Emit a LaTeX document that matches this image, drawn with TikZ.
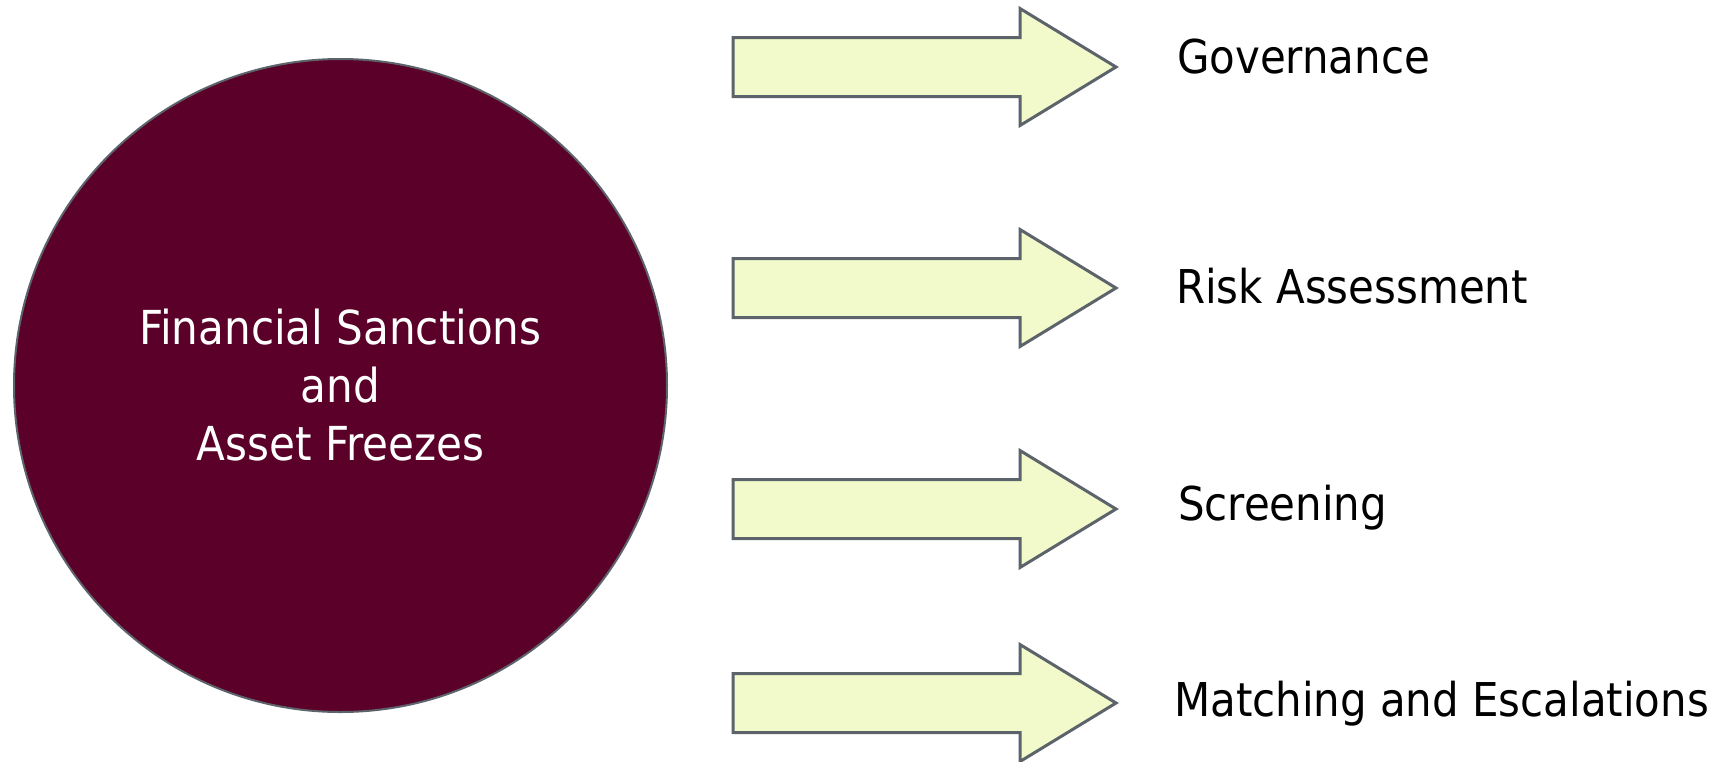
\documentclass[tikz,border=0pt]{standalone}
\usepackage{fontspec}
\setmainfont{DejaVu Sans Condensed}
\usepackage{tikz}
\usetikzlibrary{positioning}
\tikzset{>=stealth}
\definecolor{sanctionred}{RGB}{90,0,41}
\definecolor{edgegray}{RGB}{92,99,106}
\definecolor{paleyellow}{RGB}{242,250,204}
\tikzset{
  blockarrow/.pic={
    \draw[line width=3, edgegray, fill=paleyellow, line join=miter]
      (0,-29.5) -- (287,-29.5) -- (287,-58.5) -- (383,0) -- (287,58.5) -- (287,29.5) -- (0,29.5) -- cycle;
  },
  topic/.style={anchor=base west, inner sep=0pt, font=\fontsize{46.6}{55}\selectfont},
}

\begin{document}
\begin{tikzpicture}[x=1pt,y=-1pt]
			\useasboundingbox (0,0) rectangle (1727,761);
			\node [circle, draw=edgegray, line width=2, fill=sanctionred, minimum size=653, inner sep=0pt, text=white, align=center, font=\fontsize{46.8}{58}\selectfont] (sanctions) at (340.5,385.5) {Financial Sanctions\\and\\Asset Freezes};
			\pic (govarrow) at (733,67) {blockarrow};
			\pic (riskarrow) at (733,288) {blockarrow};
			\pic (screenarrow) at (733,509) {blockarrow};
			\pic (matcharrow) at (733,703) {blockarrow};
			\node [topic] (governance) at (1177,73) {Governance};
			\node [topic] (risk) at (1176,303) {Risk Assessment};
			\node [topic] (screening) at (1178,520) {Screening};
			\node [topic] (matching) at (1174,716) {Matching and Escalations};
		\end{tikzpicture}
\end{document}
